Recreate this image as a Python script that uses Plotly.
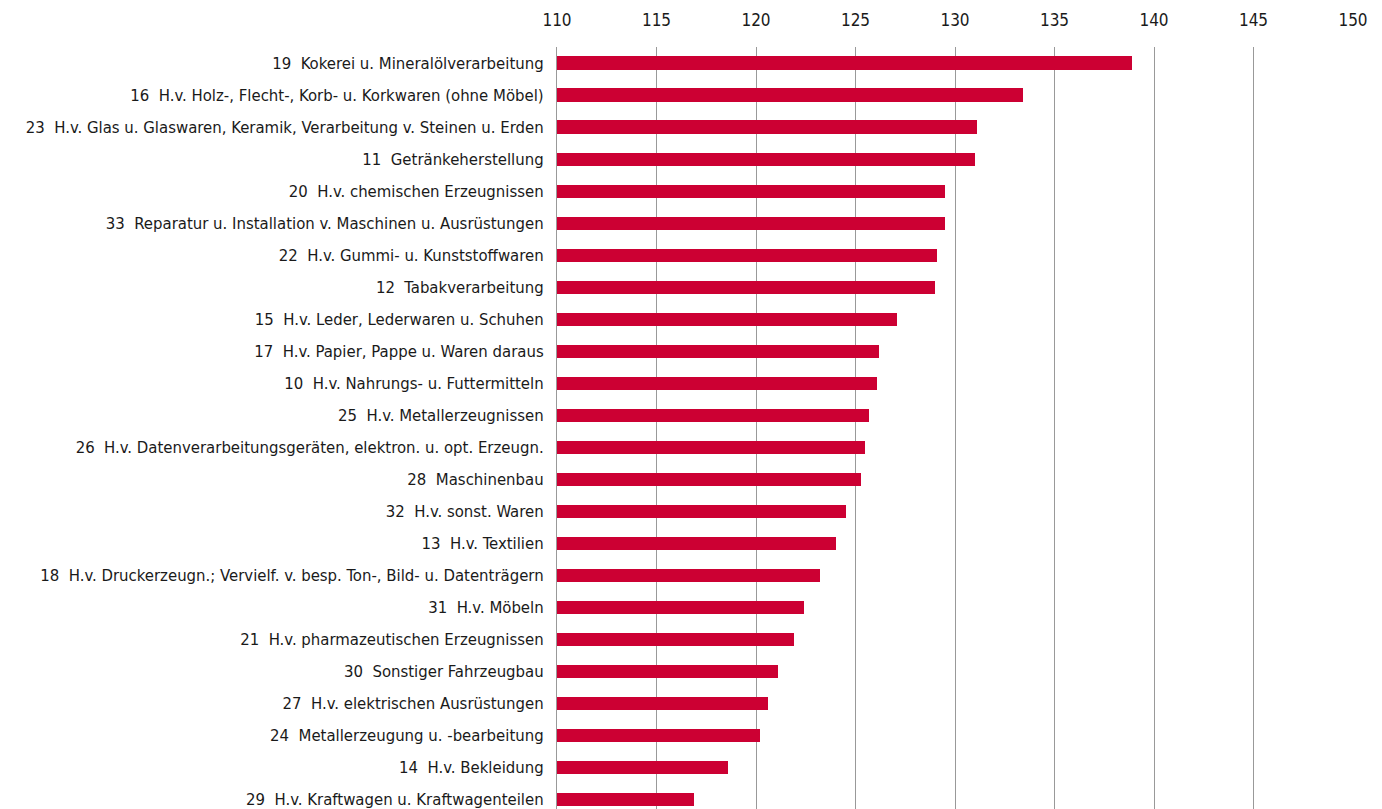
import plotly.graph_objects as go

categories = [
    "19  Kokerei u. Mineralölverarbeitung",
    "16  H.v. Holz-, Flecht-, Korb- u. Korkwaren (ohne Möbel)",
    "23  H.v. Glas u. Glaswaren, Keramik, Verarbeitung v. Steinen u. Erden",
    "11  Getränkeherstellung",
    "20  H.v. chemischen Erzeugnissen",
    "33  Reparatur u. Installation v. Maschinen u. Ausrüstungen",
    "22  H.v. Gummi- u. Kunststoffwaren",
    "12  Tabakverarbeitung",
    "15  H.v. Leder, Lederwaren u. Schuhen",
    "17  H.v. Papier, Pappe u. Waren daraus",
    "10  H.v. Nahrungs- u. Futtermitteln",
    "25  H.v. Metallerzeugnissen",
    "26  H.v. Datenverarbeitungsgeräten, elektron. u. opt. Erzeugn.",
    "28  Maschinenbau",
    "32  H.v. sonst. Waren",
    "13  H.v. Textilien",
    "18  H.v. Druckerzeugn.; Vervielf. v. besp. Ton-, Bild- u. Datenträgern",
    "31  H.v. Möbeln",
    "21  H.v. pharmazeutischen Erzeugnissen",
    "30  Sonstiger Fahrzeugbau",
    "27  H.v. elektrischen Ausrüstungen",
    "24  Metallerzeugung u. -bearbeitung",
    "14  H.v. Bekleidung",
    "29  H.v. Kraftwagen u. Kraftwagenteilen",
]
values = [138.9, 133.4, 131.1, 131.0, 129.5, 129.5, 129.1, 129.0, 127.1, 126.2,
          126.1, 125.7, 125.5, 125.3, 124.5, 124.0, 123.2, 122.4, 121.9, 121.1,
          120.6, 120.2, 118.6, 116.9]
x_ticks = [110, 115, 120, 125, 130, 135, 140, 145, 150]

labels = [c.replace("  ", "\u00a0\u00a0") for c in categories]

FONT = "DejaVu Sans Condensed, Liberation Sans Narrow, Roboto, sans-serif"

fig = go.Figure(go.Bar(
    x=[v - 110 for v in values],
    base=110,
    y=labels,
    orientation="h",
    width=0.41,
    marker=dict(color="#CC0033", line=dict(width=0)),
    hoverinfo="x+y",
))

# page body has an 8px default margin, so the figure is offset by 8px
fig.update_layout(
    width=1374, height=801,
    margin=dict(l=549, r=29, t=39, b=0),
    paper_bgcolor="white", plot_bgcolor="white",
    showlegend=False,
    bargap=0,
    font=dict(family=FONT, color="#1a1a1a"),
)
fig.update_xaxes(
    side="top", range=[110, 150], tickvals=x_ticks,
    showgrid=True, gridcolor="#999999", gridwidth=1,
    zeroline=False, showline=False, ticks="",
    tickfont=dict(size=17, family=FONT, color="#1a1a1a"),
    ticklabelstandoff=17,
    automargin=False,
)
fig.update_yaxes(
    type="category", range=[23.3, -0.5],
    showgrid=False, zeroline=False,
    showline=True, linecolor="#999999", linewidth=1,
    ticks="",
    tickfont=dict(size=16.6, color="#1a1a1a"),
    ticklabelstandoff=9,
    automargin=False,
)

fig.write_html("out.html")
